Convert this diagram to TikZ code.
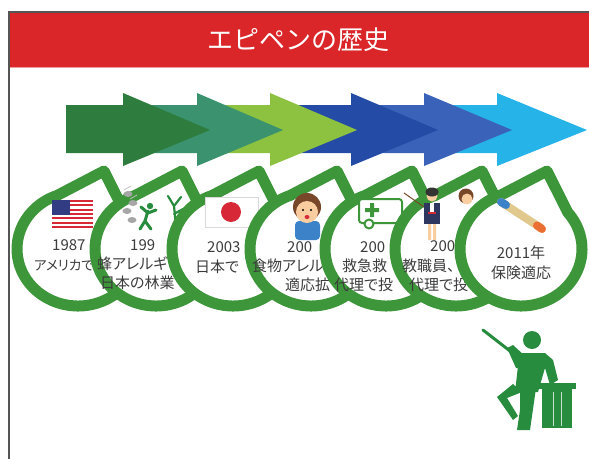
\documentclass[tikz,border=0pt]{standalone}
\usepackage{fontspec}
\newfontfamily\jpfont[RawFeature=+palt]{Noto Sans CJK JP}
\newfontfamily\jptitle{Noto Sans CJK JP}
\usetikzlibrary{calc}
\definecolor{hdrred}{RGB}{218, 37, 41}
\definecolor{frameclr}{RGB}{85, 85, 85}
\definecolor{arrA}{RGB}{46, 125, 62}
\definecolor{arrB}{RGB}{58, 146, 110}
\definecolor{arrC}{RGB}{141, 194, 64}
\definecolor{arrD}{RGB}{36, 76, 166}
\definecolor{arrE}{RGB}{58, 98, 185}
\definecolor{arrF}{RGB}{38, 180, 232}
\definecolor{ringgreen}{RGB}{62, 150, 58}
\definecolor{txtgray}{RGB}{60, 60, 60}
\definecolor{figgreen}{RGB}{40, 140, 62}
\definecolor{flagred}{RGB}{215, 40, 55}
\definecolor{flagblue}{RGB}{50, 60, 130}
\definecolor{skin}{RGB}{250, 205, 160}
\definecolor{hairbrown}{RGB}{120, 70, 40}
\definecolor{shirtblue}{RGB}{60, 130, 200}
\definecolor{navy}{RGB}{45, 55, 95}
\definecolor{penbeige}{RGB}{225, 200, 140}
\definecolor{penorange}{RGB}{235, 110, 50}
\tikzset{
  % Sarlavha
  titletext/.style = {font=\jptitle\fontsize{26}{30}\selectfont, text=white, inner sep=0pt},
  % Doiralar (pufak)
  ring/.style      = {draw=ringgreen, line width=11pt, fill=white, line join=round},
  cline/.style     = {font=\jpfont\fontsize{15}{19.5}\selectfont, text=txtgray,
                      anchor=west, inner sep=0pt},
  clinesm/.style   = {cline, font=\jpfont\fontsize{13.5}{18}\selectfont},
  % Belgilar
  iconline/.style  = {draw=ringgreen, line width=2pt, line join=round},
  figfill/.style   = {fill=figgreen},
}
% o'q: boshlanish, uch asosi, uch, rang
\newcommand{\chevronarrow}[4]{%
  \fill[#4] (#1,105) -- (#2,105) -- (#2,93) -- (#3,130) -- (#2,166) -- (#2,153) -- (#1,153) -- cycle;}
% pufak: markaz x, nom
\newcommand{\bubbleat}[2]{%
  \draw[ring] ($(#1,249)+(-110:61 and 57)$)
    arc[start angle=-110, end angle=-400, x radius=61, y radius=57] -- (#1+26,171) -- cycle;
  \coordinate (#2) at (#1,249);}

\begin{document}
\begin{tikzpicture}[x=1pt, y=-1pt]
  \useasboundingbox (0,0) rectangle (589,458);
  % Ramka va sarlavha
  \fill[hdrred] (9,12) rectangle (589,68);
  \draw[hdrred!45, line width=1.5pt] (9,67.5) -- (589,67.5);
  \draw[frameclr, line width=1.5pt] (9,470) -- (9,12) -- (595,12);
  \node[titletext] (title) at (298,40) {エピペンの歴史};
  % O'qlar
  \chevronarrow{424}{497}{587}{arrF}
  \chevronarrow{351}{424}{512}{arrE}
  \chevronarrow{270}{351}{438}{arrD}
  \chevronarrow{197}{270}{357}{arrC}
  \chevronarrow{123}{197}{283}{arrB}
  \chevronarrow{66}{123}{210}{arrA}
  % 1-doira: bayroq
  \bubbleat{78}{c1}
  \foreach \s in {0,...,6}
    \fill[flagred] (52,200+\s*4.3) rectangle (93,202.15+\s*4.3);
  \fill[flagblue] (52,200) rectangle (70,215);
  \node[cline] (t1a) at (52,245) {1987};
  \node[clinesm] (t1b) at (34,265) {アメリカで};
  % 2-doira: asalarilar
  \bubbleat{156}{c2}
  \foreach \bx/\by in {128/194, 133/203, 127/211, 132/220}
    \fill[gray!70] (\bx,\by) ellipse[x radius=4.5, y radius=3];
  \draw[gray!50, line width=0.8pt] (124,190) -- (131,186) (130,199) -- (137,195);
  \fill[figgreen] (150,206) circle[radius=3.2];
  \draw[figgreen, line width=3pt, line cap=round, line join=round]
    (148,211) -- (145,221) -- (140,229) (145,221) -- (151,229)
    (148,213) -- (141,207) (148,213) -- (156,210);
  \draw[figgreen, line width=2.2pt, line cap=round]
    (176,226) -- (174,206) -- (168,196) (174,206) -- (181,197) (174,214) -- (183,209);
  \node[cline] (t2a) at (130,245) {199};
  \node[cline] (t2b) at (97,264) {蜂アレルギ};
  \node[cline] (t2c) at (100,283) {日本の林業};
  % 3-doira: Yaponiya bayrog'i
  \bubbleat{233}{c3}
  \draw[gray!30, fill=white] (205,197) rectangle (258,227);
  \fill[flagred] (231,212) circle[radius=10];
  \node[cline] (t3a) at (207,247) {2003};
  \node[cline] (t3b) at (195,267) {日本で};
  % 4-doira: bola
  \bubbleat{311}{c4}
  \fill[shirtblue, rounded corners=4pt] (295,221) rectangle (320,240);
  \fill[hairbrown] (307,207) circle[radius=14];
  \fill[skin] (307,212) circle[radius=11];
  \fill[black] (303,210) circle[radius=1.2] (311,210) circle[radius=1.2];
  \fill[flagred] (307,217) ellipse[x radius=2.5, y radius=2];
  \node[cline] (t4a) at (287,247) {200};
  \node[cline] (t4b) at (252,266) {食物アレル};
  \node[cline] (t4c) at (285,285) {適応拡};
  % 5-doira: tez yordam
  \bubbleat{386}{c5}
  \draw[iconline, fill=white, rounded corners=3pt] (359,199) rectangle (402,223);
  \fill[ringgreen] (370,203) rectangle (374,217) (365,208) rectangle (379,212);
  \draw[iconline, fill=white] (369,224) circle[radius=4.5];
  \node[cline] (t5a) at (360,247) {200};
  \node[cline] (t5b) at (342,266) {救急救};
  \node[cline] (t5c) at (334,285) {代理で投};
  % 6-doira: o'qituvchi
  \bubbleat{456}{c6}
  \draw[brown!60!black, line width=1pt] (404,193) -- (424,207);
  \fill[navy] (424,203) rectangle (440,224);
  \fill[white] (430,203) rectangle (434,212);
  \fill[flagred] (428,212) rectangle (436,214);
  \fill[skin] (428,224) rectangle (431,240) (433,224) rectangle (436,240);
  \fill[skin] (432,196) circle[radius=5.5];
  \fill[black!80] (432,192) ellipse[x radius=6.5, y radius=4.5];
  \fill[hairbrown] (466,196) circle[radius=7.5];
  \fill[skin] (467,199) circle[radius=5.5];
  \node[cline] (t6a) at (430,246) {200};
  \node[cline] (t6b) at (402,266) {教職員、};
  \node[cline] (t6c) at (409,285) {代理で投};
  % 7-doira: autoinjektor
  \bubbleat{521}{c7}
  \draw[penbeige, line width=8pt, line cap=round] (501,202) -- (541,228);
  \draw[shirtblue, line width=8pt, line cap=round] (501,202) -- (506,205);
  \draw[penorange, line width=8pt, line cap=round] (537,225.5) -- (542,229);
  \node[cline, anchor=center] (t7a) at (521,253) {2011年};
  \node[cline, anchor=center] (t7b) at (521,273) {保険適応};
  % Ma'ruzachi
  \draw[figgreen, line width=3pt, line cap=round] (483,330) -- (510,351);
  \fill[figgreen] (532,340) circle[radius=9];
  \fill[figfill] (507,348) -- (513,345) -- (525,356) -- (523,368) -- (516,368) -- cycle;
  \fill[figfill] (520,353) -- (545,353) -- (553,360) -- (558,380) -- (550,385)
    -- (545,368) -- (538,392) -- (515,392) -- (518,366) -- cycle;
  \fill[figfill] (513,384) -- (522,392) -- (507,398) -- (518,416) -- (513,420) -- (497,397) -- cycle;
  \fill[figfill] (520,388) -- (536,388) -- (530,430) -- (517,430) -- (520,410) -- cycle;
  \fill[figfill] (539,383) rectangle (576,389);
  \fill[figfill] (542,389) rectangle (572,428);
  \draw[white!75!figgreen, line width=0.8pt] (553,392) -- (553,426) (561,392) -- (561,426);
\end{tikzpicture}
\end{document}
